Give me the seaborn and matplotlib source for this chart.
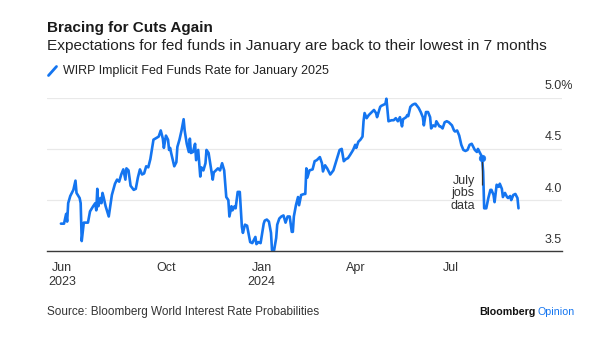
import matplotlib
matplotlib.use("Agg")
import matplotlib.pyplot as plt
import matplotlib.transforms as mtransforms
from matplotlib.lines import Line2D
import seaborn as sns
import pandas as pd

# ---------------- data ----------------
dates = [
    "2023-06-22", "2023-06-25", "2023-06-27", "2023-06-28", "2023-06-29", "2023-07-01",
    "2023-07-04", "2023-07-06", "2023-07-07", "2023-07-10", "2023-07-11", "2023-07-12",
    "2023-07-14", "2023-07-18", "2023-07-20", "2023-07-23", "2023-07-25", "2023-07-26",
    "2023-07-27", "2023-07-28", "2023-07-30", "2023-07-31", "2023-08-01", "2023-08-02",
    "2023-08-04", "2023-08-07", "2023-08-10", "2023-08-13", "2023-08-15", "2023-08-17",
    "2023-08-19", "2023-08-21", "2023-08-23", "2023-08-24", "2023-08-26", "2023-08-28",
    "2023-08-31", "2023-09-02", "2023-09-04", "2023-09-06", "2023-09-08", "2023-09-10",
    "2023-09-12", "2023-09-14", "2023-09-16", "2023-09-19", "2023-09-24", "2023-09-26",
    "2023-09-28", "2023-09-29", "2023-10-01", "2023-10-03", "2023-10-04", "2023-10-05",
    "2023-10-06", "2023-10-09", "2023-10-11", "2023-10-12", "2023-10-14", "2023-10-16",
    "2023-10-18", "2023-10-19", "2023-10-21", "2023-10-23", "2023-10-24", "2023-10-25",
    "2023-10-27", "2023-10-29", "2023-10-30", "2023-11-01", "2023-11-03", "2023-11-04",
    "2023-11-06", "2023-11-08", "2023-11-09", "2023-11-11", "2023-11-13", "2023-11-15",
    "2023-11-16", "2023-11-18", "2023-11-20", "2023-11-22", "2023-11-24", "2023-11-26",
    "2023-11-28", "2023-11-30", "2023-12-01", "2023-12-03", "2023-12-04", "2023-12-06",
    "2023-12-07", "2023-12-09", "2023-12-11", "2023-12-13", "2023-12-14", "2023-12-16",
    "2023-12-18", "2023-12-21", "2023-12-23", "2023-12-26", "2023-12-27", "2023-12-29",
    "2023-12-31", "2024-01-03", "2024-01-04", "2024-01-06", "2024-01-08", "2024-01-10",
    "2024-01-11", "2024-01-13", "2024-01-15", "2024-01-16", "2024-01-18", "2024-01-20",
    "2024-01-22", "2024-01-24", "2024-01-26", "2024-01-28", "2024-01-30", "2024-01-31",
    "2024-02-01", "2024-02-03", "2024-02-05", "2024-02-06", "2024-02-08", "2024-02-11",
    "2024-02-12", "2024-02-13", "2024-02-14", "2024-02-16", "2024-02-19", "2024-02-21",
    "2024-02-23", "2024-02-26", "2024-02-28", "2024-02-29", "2024-03-02", "2024-03-04",
    "2024-03-07", "2024-03-10", "2024-03-13", "2024-03-16", "2024-03-18", "2024-03-20",
    "2024-03-22", "2024-03-24", "2024-03-26", "2024-03-29", "2024-03-31", "2024-04-01",
    "2024-04-03", "2024-04-05", "2024-04-07", "2024-04-08", "2024-04-09", "2024-04-11",
    "2024-04-13", "2024-04-16", "2024-04-18", "2024-04-20", "2024-04-21", "2024-04-24",
    "2024-04-25", "2024-04-27", "2024-04-29", "2024-04-30", "2024-05-01", "2024-05-02",
    "2024-05-05", "2024-05-07", "2024-05-09", "2024-05-11", "2024-05-13", "2024-05-15",
    "2024-05-16", "2024-05-19", "2024-05-20", "2024-05-21", "2024-05-23", "2024-05-25",
    "2024-05-27", "2024-05-28", "2024-05-31", "2024-06-02", "2024-06-04", "2024-06-05",
    "2024-06-07", "2024-06-09", "2024-06-11", "2024-06-12", "2024-06-14", "2024-06-16",
    "2024-06-17", "2024-06-20", "2024-06-21", "2024-06-23", "2024-06-25", "2024-06-27",
    "2024-06-29", "2024-07-02", "2024-07-04", "2024-07-05", "2024-07-07", "2024-07-09",
    "2024-07-11", "2024-07-13", "2024-07-15", "2024-07-17", "2024-07-19", "2024-07-21",
    "2024-07-23", "2024-07-24", "2024-07-26", "2024-07-27", "2024-07-29", "2024-07-30",
    "2024-07-31", "2024-08-01", "2024-08-02", "2024-08-04", "2024-08-05", "2024-08-06",
    "2024-08-08", "2024-08-09", "2024-08-11", "2024-08-12", "2024-08-14", "2024-08-16",
    "2024-08-17", "2024-08-19", "2024-08-20", "2024-08-22", "2024-08-24", "2024-08-25",
    "2024-08-27", "2024-08-28", "2024-08-30", "2024-09-01", "2024-09-03", "2024-09-04",
]
rates = [
    3.77, 3.77, 3.865, 3.79, 3.97, 4.04,
    4.10, 4.19, 4.07, 4.02, 3.97, 3.60,
    3.78, 3.78, 3.89, 3.94, 3.97, 3.90,
    4.11, 3.94, 4.02, 3.97, 4.07, 4.03,
    3.94, 3.84, 4.05, 4.16, 4.20, 4.18,
    4.25, 4.30, 4.20, 4.31, 4.29, 4.14,
    4.10, 4.11, 4.22, 4.30, 4.25, 4.26,
    4.33, 4.32, 4.40, 4.59, 4.62, 4.68,
    4.60, 4.51, 4.63, 4.59, 4.49, 4.51,
    4.46, 4.33, 4.37, 4.52, 4.59, 4.68,
    4.79, 4.68, 4.55, 4.47, 4.60, 4.46,
    4.47, 4.55, 4.39, 4.49, 4.23, 4.32,
    4.29, 4.36, 4.49, 4.46, 4.33, 4.20,
    4.27, 4.29, 4.31, 4.29, 4.36, 4.29,
    4.03, 4.00, 3.84, 3.94, 3.90, 3.94,
    3.92, 4.08, 4.08, 3.74, 3.68, 3.76,
    3.75, 3.59, 3.58, 3.64, 3.57, 3.59,
    3.58, 3.77, 3.80, 3.81, 3.79, 3.68,
    3.51, 3.51, 3.63, 3.76, 3.82, 3.84,
    3.85, 3.78, 3.84, 3.84, 3.69, 3.69,
    3.84, 3.95, 4.03, 3.95, 4.05, 4.06,
    4.06, 4.31, 4.22, 4.29, 4.30, 4.38,
    4.39, 4.42, 4.36, 4.28, 4.34, 4.31,
    4.25, 4.29, 4.39, 4.49, 4.50, 4.38,
    4.40, 4.41, 4.44, 4.49, 4.54, 4.51,
    4.57, 4.59, 4.62, 4.77, 4.85, 4.80,
    4.83, 4.86, 4.88, 4.85, 4.81, 4.91,
    4.92, 4.93, 4.94, 4.99, 4.88, 4.77,
    4.78, 4.78, 4.80, 4.77, 4.81, 4.72,
    4.79, 4.81, 4.83, 4.82, 4.91, 4.93,
    4.94, 4.94, 4.90, 4.86, 4.81, 4.73,
    4.86, 4.86, 4.81, 4.70, 4.73, 4.72,
    4.77, 4.72, 4.72, 4.70, 4.76, 4.77,
    4.76, 4.73, 4.68, 4.67, 4.68, 4.63,
    4.54, 4.49, 4.48, 4.49, 4.54, 4.55,
    4.51, 4.49, 4.47, 4.50, 4.46, 4.44,
    4.41, 4.28, 3.92, 3.92, 3.97, 4.02,
    4.10, 4.10, 4.05, 3.98, 4.15, 4.13,
    4.16, 4.11, 4.03, 4.07, 4.03, 4.02,
    4.04, 4.00, 4.05, 4.06, 4.02, 3.92,
]
series_name = "WIRP Implicit Fed Funds Rate for January 2025"

event_date = "2024-07-31"
event_value = 4.41
event_label = "July\njobs\ndata"
event_label_anchor = ("2024-07-24", 4.067)
event_leader_end = 4.15

xtick_dates = ["2023-06-23", "2023-10-01", "2024-01-01", "2024-04-01", "2024-07-01"]
xtick_labels = ["Jun\n2023", "Oct", "Jan\n2024", "Apr", "Jul"]
ytick_values = [5.0, 4.5, 4.0, 3.5]
ytick_labels = ["5.0%", "4.5", "4.0", "3.5"]
x_range = ("2023-06-08 08:00", "2024-10-15 20:00")
y_range = (3.5, 5.0)

title = "Bracing for Cuts Again"
subtitle = "Expectations for fed funds in January are back to their lowest in 7 months"
source = "Source: Bloomberg World Interest Rate Probabilities"

# ---------------- style ----------------
BLUE = "#1475F0"
DARK = "#1a1a1a"
W, H = 613, 346

sns.set_theme(style="white")
plt.rcParams["font.family"] = ["Liberation Sans", "DejaVu Sans"]

fig = plt.figure(figsize=(W / 100, H / 100), dpi=100)
ax_l, ax_r, ax_b, ax_t = 46.7, 562.0, 251.3, 97.7
ax = fig.add_axes([ax_l / W, 1 - ax_b / H, (ax_r - ax_l) / W, (ax_b - ax_t) / H])

df = pd.DataFrame({"date": pd.to_datetime(dates), "rate": rates})
sns.lineplot(data=df, x="date", y="rate", estimator=None, sort=False,
             color=BLUE, linewidth=1.9, ax=ax, legend=False, clip_on=False, zorder=3)

ev = pd.DataFrame({"date": pd.to_datetime([event_date]), "rate": [event_value]})
ax.plot([ev["date"][0], ev["date"][0]], [event_value, event_leader_end],
        color="#333333", lw=0.9, zorder=4, solid_capstyle="butt")
sns.scatterplot(data=ev, x="date", y="rate", color=BLUE, s=22, edgecolor=BLUE,
                linewidth=0.5, ax=ax, zorder=5, clip_on=False)

ax.set_xlim(pd.Timestamp(x_range[0]), pd.Timestamp(x_range[1]))
ax.set_ylim(*y_range)
ax.set_xlabel("")
ax.set_ylabel("")

# grid + y labels
ax.set_yticks(ytick_values)
ax.set_yticklabels([])
ax.tick_params(axis="y", length=0)
ax.yaxis.grid(True, color="#e9e9e9", linewidth=0.9)
ax.xaxis.grid(False)
ylab_tr = mtransforms.blended_transform_factory(ax.transAxes, ax.transData) + \
    mtransforms.ScaledTranslation(0, 11.5 / 100, fig.dpi_scale_trans)
xfrac = (545 - ax_l) / (ax_r - ax_l)
for v, lab in zip(ytick_values, ytick_labels):
    ax.text(xfrac, v, lab, transform=ylab_tr, ha="left", va="center",
            fontsize=9, color="#333333")

# spines / x ticks
for s in ["top", "right", "left"]:
    ax.spines[s].set_visible(False)
ax.spines["bottom"].set_color("#3a3a3a")
ax.spines["bottom"].set_linewidth(1.0)
ax.spines["bottom"].set_zorder(6)
ax.set_xticks(pd.to_datetime(xtick_dates))
ax.set_xticklabels(xtick_labels)
ax.tick_params(axis="x", length=4, width=0.9, color="#3a3a3a", pad=4,
               labelsize=9, labelcolor="#333333")

# annotation
ax.text(pd.Timestamp(event_label_anchor[0]), event_label_anchor[1], event_label,
        ha="right", va="center", fontsize=9, color="#333333", linespacing=1.05,
        multialignment="right")

# ---------------- header / footer ----------------
fig.text(47 / W, 1 - 28 / H, title, fontsize=11, fontweight="bold",
         color=DARK, ha="left", va="center")
fig.text(47 / W, 1 - 46 / H, subtitle, fontsize=11.1, color="#222222",
         ha="left", va="center")
fig.add_artist(Line2D([48.5 / W, 56.5 / W], [1 - 75.5 / H, 1 - 66.5 / H],
                      color=BLUE, lw=2.0, solid_capstyle="round"))
fig.text(63.3 / W, 1 - 71 / H, series_name, fontsize=9, color="#222222",
         ha="left", va="center")
fig.text(46.7 / W, 1 - 312.3 / H, source, fontsize=8.45, color="#333333",
         ha="left", va="center")

op = fig.text(575 / W, 1 - 312.3 / H, "Opinion", fontsize=7.7, color=BLUE,
              ha="right", va="center")
fig.canvas.draw()
bb = op.get_window_extent(fig.canvas.get_renderer())
fig.text(bb.x0 / W - 2 / W, 1 - 312.3 / H, "Bloomberg", fontsize=7.7,
         fontweight="bold", color="#111111", ha="right", va="center")

fig.savefig("out.png", dpi=100)
